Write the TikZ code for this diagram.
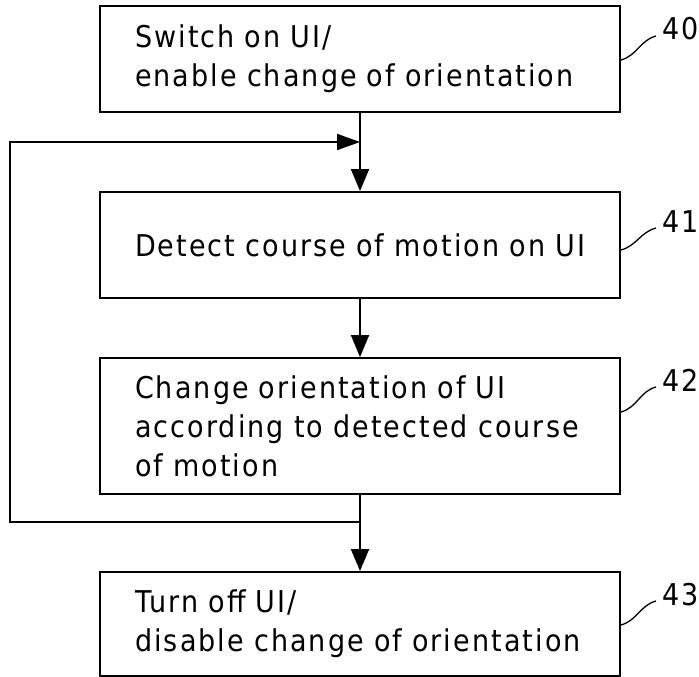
\documentclass[tikz,border=0pt]{standalone}
\usepackage{fontspec}
\setmainfont{DejaVu Sans}[LetterSpace=7,FakeStretch=0.9]
\usetikzlibrary{arrows.meta}
\begin{document}
\begin{tikzpicture}[x=1pt,y=-1pt,
  txt/.style={font=\fontsize{30}{39}\selectfont},
  stepbox/.style={txt, draw, line width=1.9pt, minimum width=520pt,
    text width=520pt, inner xsep=0pt, anchor=center,
    execute at begin node={\parindent=0pt\leftskip=35pt\rightskip=0pt plus 1fil\relax}},
  lbl/.style={txt, inner sep=0pt, anchor=base west},
  conn/.style={line width=1.9pt},
  leader/.style={line width=1.3pt},
  arr/.style={-{Triangle[length=22pt,width=18pt]}},
  harr/.style={-{Triangle[length=23pt,width=16pt]}}
]
\useasboundingbox (0,0) rectangle (699,677);

\node[stepbox, minimum height=106pt] (b40) at (360,59) {Switch on UI/\\enable change of orientation};
\node[stepbox, minimum height=106pt] (b41) at (360,245) {Detect course of motion on UI};
\node[stepbox, minimum height=136pt] (b42) at (360,426) {Change orientation of UI\\according to detected course\\of motion};
\node[stepbox, minimum height=104pt] (b43) at (360,624) {Turn off UI/\\disable change of orientation};

\node[lbl] (l40) at (662,40) {40};
\node[lbl] (l41) at (662,232) {41};
\node[lbl] (l42) at (662,391) {42};
\node[lbl] (l43) at (662,605) {43};

\draw[leader] ([yshift=-1pt]b40.east) to[out=15,in=195] ([xshift=-6pt,yshift=4pt]l40.base west);
\draw[leader] ([yshift=-5pt]b41.east) to[out=15,in=195] ([xshift=-6pt,yshift=4pt]l41.base west);
\draw[leader] ([yshift=14pt]b42.east) to[out=15,in=195] ([xshift=-6pt,yshift=4pt]l42.base west);
\draw[leader] ([yshift=-1pt]b43.east) to[out=15,in=195] ([xshift=-6pt,yshift=4pt]l43.base west);

\coordinate (j1) at (360,522);
\coordinate (j2) at (360,142);
\coordinate (c1) at (10,522);
\coordinate (c2) at (10,142);

\draw[conn, arr] (b40.south) -- (b41.north);
\draw[conn, arr] (b41.south) -- (b42.north);
\draw[conn, arr] (b42.south) -- (b43.north);
\draw[conn, harr] (j1) -- (c1) -- (c2) -- (j2);
\end{tikzpicture}
\end{document}
